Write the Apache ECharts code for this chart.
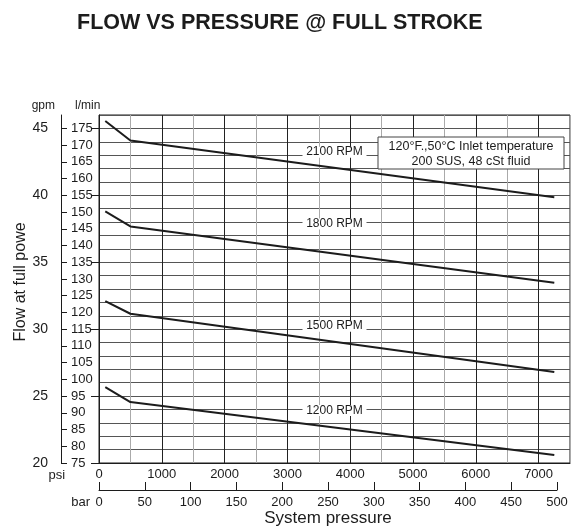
<!DOCTYPE html>
<html>
<head>
<meta charset="utf-8">
<script src="https://cdn.jsdelivr.net/npm/echarts@6/dist/echarts.min.js"></script>
<style>
  html, body { margin: 0; padding: 0; background: #fff; }
  #chart { width: 573px; height: 529px; }
</style>
</head>
<body>
<div id="chart"></div>
<script>
// pressure points (psi) where each curve was read
const psiPoints = [100, 500, 7250]
// flow in l/min at those points
const flow2100 = [177.2, 171.4, 154.4]
const flow1800 = [150.2, 145.7, 128.9]
const flow1500 = [123.4, 119.6, 102.2]
const flow1200 = [97.7, 93.2, 77.4]
const rpmNames = ['2100 RPM', '1800 RPM', '1500 RPM', '1200 RPM']
// where the rpm tags sit (psi, l/min)
const tagPsi = 3750
const tagFlow = [167.9, 146.4, 115.9, 90.7]
// tick labels
const gpmTicks = [20, 25, 30, 35, 40, 45]
const lpmTicks = [75, 80, 85, 90, 95, 100, 105, 110, 115, 120, 125, 130, 135, 140, 145, 150, 155, 160, 165, 170, 175]
const psiTicks = [0, 1000, 2000, 3000, 4000, 5000, 6000, 7000]

const FONT = 'Liberation Sans, Arial, sans-serif'
const INK = '#1c1c1c'

const chart = echarts.init(document.getElementById('chart'))

const curves = [flow2100, flow1800, flow1500, flow1200]
const series = curves.map((vals, i) => ({
  name: rpmNames[i],
  type: 'line',
  xAxisIndex: 0,
  yAxisIndex: 1,
  symbol: 'none',
  z: 3,
  data: psiPoints.map((p, j) => [p, vals[j]]),
  lineStyle: { color: INK, width: 2 },
  markPoint: {
    symbol: 'rect',
    symbolSize: [64, 11],
    silent: true,
    itemStyle: { color: '#fff' },
    label: {
      show: true,
      position: 'inside',
      color: INK,
      fontSize: 12,
      fontFamily: FONT,
      formatter: rpmNames[i]
    },
    data: [{ coord: [tagPsi, tagFlow[i]] }]
  }
}))

const option = {
  animation: false,
  backgroundColor: '#fff',
  textStyle: { fontFamily: FONT },
  title: {
    text: 'FLOW VS PRESSURE @ FULL STROKE',
    left: 72,
    top: 7,
    textStyle: { fontSize: 21.5, fontWeight: 'bold', color: INK, fontFamily: FONT }
  },
  grid: [
    { left: 99, right: 2, top: 115, bottom: 66, show: true, borderColor: INK, borderWidth: 1 },
    { left: 99, right: 16, top: 489, height: 1 }
  ],
  xAxis: [
    {
      gridIndex: 0,
      type: 'value',
      min: 0,
      max: 7500,
      interval: 500,
      position: 'bottom',
      name: 'psi',
      nameLocation: 'start',
      nameGap: 9,
      nameTextStyle: { fontSize: 13, color: INK, verticalAlign: 'top', padding: [6, 0, 0, 0] },
      axisLine: { lineStyle: { color: INK } },
      axisTick: { show: false },
      axisLabel: {
        margin: 5,
        fontSize: 13,
        color: INK,
        formatter: (v) => (psiTicks.includes(v) ? String(v) : '')
      },
      splitLine: { show: true, lineStyle: { color: ['#222', '#aaa'], width: 1 } }
    },
    {
      gridIndex: 1,
      type: 'value',
      min: 0,
      max: 500,
      interval: 50,
      position: 'bottom',
      name: 'bar',
      nameLocation: 'start',
      nameGap: 9,
      nameTextStyle: { fontSize: 13, color: INK, verticalAlign: 'top', padding: [6, 0, 0, 0] },
      axisLine: { lineStyle: { color: INK } },
      axisTick: { inside: true, length: 8, lineStyle: { color: INK } },
      axisLabel: { margin: 6, fontSize: 13, color: INK },
      splitLine: { show: false }
    }
  ],
  yAxis: [
    {
      // gpm scale, left of the shared axis line
      gridIndex: 0,
      type: 'value',
      min: 20,
      max: 46,
      interval: 5,
      position: 'left',
      offset: 38,
      axisLine: { show: true, lineStyle: { color: INK } },
      axisTick: { show: true, length: 8, customValues: gpmTicks, lineStyle: { color: INK } },
      axisLabel: { margin: 13, fontSize: 14, color: INK, customValues: gpmTicks },
      splitLine: { show: false }
    },
    {
      // l/min scale, right of the shared axis line
      gridIndex: 0,
      type: 'value',
      min: 75,
      max: 179,
      interval: 5,
      position: 'left',
      offset: 38,
      axisLine: { show: true, lineStyle: { color: INK } },
      axisTick: { show: true, inside: true, length: 6, customValues: lpmTicks, lineStyle: { color: INK } },
      axisLabel: { inside: true, margin: 10, fontSize: 13, color: INK, customValues: lpmTicks },
      splitLine: { show: false }
    },
    {
      // one grid line per gpm
      gridIndex: 0,
      type: 'value',
      min: 20,
      max: 46,
      interval: 1,
      position: 'right',
      axisLine: { show: false },
      axisTick: { show: false },
      axisLabel: { show: false },
      splitLine: { show: true, lineStyle: { color: '#555', width: 1 } }
    },
    { gridIndex: 1, type: 'value', show: false }
  ],
  series,
  graphic: [
    {
      type: 'text',
      x: 55,
      y: 106,
      style: { text: 'gpm', font: '12px ' + FONT, fill: INK, align: 'right', verticalAlign: 'middle' }
    },
    {
      type: 'text',
      x: 75,
      y: 106,
      style: { text: 'l/min', font: '12px ' + FONT, fill: INK, align: 'left', verticalAlign: 'middle' }
    },
    {
      type: 'text',
      x: 21,
      y: 282,
      rotation: Math.PI / 2,
      style: {
        text: 'Flow at full powe',
        font: '16px ' + FONT,
        fill: INK,
        align: 'center',
        verticalAlign: 'middle'
      }
    },
    {
      type: 'text',
      x: 328,
      y: 518,
      style: {
        text: 'System pressure',
        font: '17px ' + FONT,
        fill: INK,
        align: 'center',
        verticalAlign: 'middle'
      }
    },
    // inlet condition note
    {
      type: 'rect',
      z: 100,
      shape: { x: 378, y: 137, width: 186, height: 32 },
      style: { fill: '#fff', stroke: '#444', lineWidth: 1 }
    },
    {
      type: 'text',
      z: 101,
      x: 471,
      y: 147,
      style: {
        text: '120°F.,50°C Inlet temperature',
        font: '12.5px ' + FONT,
        fill: INK,
        align: 'center',
        verticalAlign: 'middle'
      }
    },
    {
      type: 'text',
      z: 101,
      x: 471,
      y: 162,
      style: {
        text: '200 SUS, 48 cSt fluid',
        font: '12.5px ' + FONT,
        fill: INK,
        align: 'center',
        verticalAlign: 'middle'
      }
    }
  ]
}

chart.setOption(option)
</script>
</body>
</html>
